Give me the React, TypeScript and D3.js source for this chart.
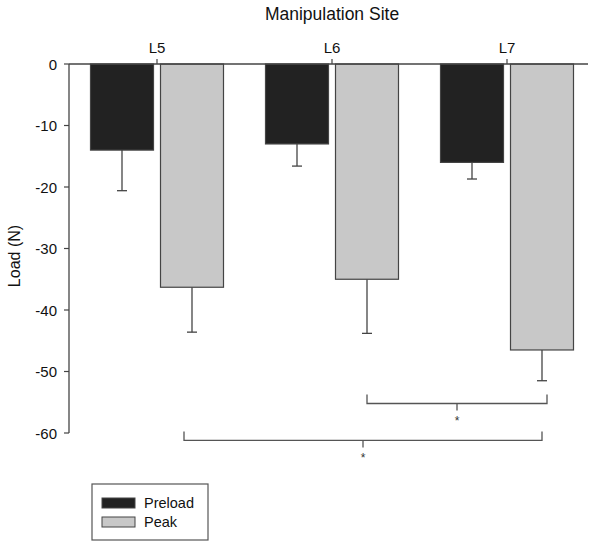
import React from "react";
import * as d3 from "d3";

const categories = ["L5", "L6", "L7"];
const preload = [-14, -13, -16];
const preloadErr = [-20.6, -16.6, -18.7];
const peak = [-36.3, -35, -46.5];
const peakErr = [-43.6, -43.8, -51.5];
const yTicks = [0, -10, -20, -30, -40, -50, -60];
const brackets = [
  { from: 1, fromSeries: 1, to: 2, toSeries: 1, level: -55.2, label: "*" },
  { from: 0, fromSeries: 1, to: 2, toSeries: 1, level: -61.2, label: "*" },
];
const seriesNames = ["Preload", "Peak"];
const colors = ["#222222", "#c8c8c8"];

export default function App() {
  const W = 602, H = 547;
  const axisX = 69;
  const y = d3.scaleLinear().domain([0, -60]).range([64, 433]);
  const x = d3.scalePoint<string>().domain(categories).range([157, 507]);
  const barW = 63;
  const gap = 7;
  const barX = (ci: number, si: number) => {
    const c = x(categories[ci])!;
    return si === 0 ? c - gap / 2 - barW : c + gap / 2;
  };
  const barCenter = (ci: number, si: number) => barX(ci, si) + barW / 2;
  const font = "Arial, 'Liberation Sans', sans-serif";
  const stroke = "#444";
  const series = [
    { vals: preload, errs: preloadErr },
    { vals: peak, errs: peakErr },
  ];
  const bracketOffsets = [
    [0, 5],
    [-8, 0],
  ];
  return (
    <svg width={W} height={H} style={{ position: "absolute", left: 0, top: 0 }} fontFamily={font}>
      <rect width={W} height={H} fill="#fff" />
      <text x={332} y={20} fontSize={17.5} textAnchor="middle" fill="#111">Manipulation Site</text>
      {series.map((s, si) =>
        s.vals.map((v, ci) => (
          <g key={`${si}-${ci}`}>
            <line x1={barCenter(ci, si)} x2={barCenter(ci, si)} y1={y(v)} y2={y(s.errs[ci])} stroke={stroke} strokeWidth={1.3} />
            <line x1={barCenter(ci, si) - 5} x2={barCenter(ci, si) + 5} y1={y(s.errs[ci])} y2={y(s.errs[ci])} stroke={stroke} strokeWidth={1.3} />
            <rect x={barX(ci, si)} y={y(0)} width={barW} height={y(v) - y(0)} fill={colors[si]} stroke={stroke} strokeWidth={1.2} />
          </g>
        ))
      )}
      <line x1={axisX} x2={588} y1={y(0)} y2={y(0)} stroke={stroke} strokeWidth={1.3} />
      {categories.map((c) => (
        <g key={c}>
          <line x1={x(c)!} x2={x(c)!} y1={y(0)} y2={y(0) - 5} stroke={stroke} strokeWidth={1.2} />
          <text x={x(c)!} y={53} fontSize={15} textAnchor="middle" fill="#111">{c}</text>
        </g>
      ))}
      <line x1={axisX} x2={axisX} y1={y(0)} y2={y(-60)} stroke={stroke} strokeWidth={1.3} />
      {yTicks.map((t) => (
        <g key={t}>
          <line x1={axisX - 5} x2={axisX} y1={y(t)} y2={y(t)} stroke={stroke} strokeWidth={1.2} />
          <text x={57} y={y(t) + 5.5} fontSize={15} textAnchor="end" fill="#111">{t}</text>
        </g>
      ))}
      <text transform={`translate(20,256) rotate(-90)`} fontSize={16} textAnchor="middle" fill="#111">Load (N)</text>
      {brackets.map((b, i) => {
        const x1 = barCenter(b.from, b.fromSeries) + bracketOffsets[i][0];
        const x2 = barCenter(b.to, b.toSeries) + bracketOffsets[i][1];
        const yy = y(b.level);
        const mid = (x1 + x2) / 2;
        return (
          <g key={i}>
            <path d={`M${x1},${yy - 9}V${yy}H${x2}V${yy - 9}`} fill="none" stroke="#555" strokeWidth={1.3} />
            <line x1={mid} x2={mid} y1={yy} y2={yy + 7} stroke="#555" strokeWidth={1.3} />
            <text x={mid} y={yy + 22} fontSize={12} textAnchor="middle" fill="#333">{b.label}</text>
          </g>
        );
      })}
      <rect x={92} y={484} width={116} height={56} fill="#fff" stroke="#555" strokeWidth={1.2} />
      {seriesNames.map((n, i) => (
        <g key={n}>
          <rect x={102} y={498 + i * 19} width={33} height={10} fill={colors[i]} stroke="#444" strokeWidth={1} />
          <text x={144} y={508 + i * 19} fontSize={14.5} fill="#111">{n}</text>
        </g>
      ))}
    </svg>
  );
}
